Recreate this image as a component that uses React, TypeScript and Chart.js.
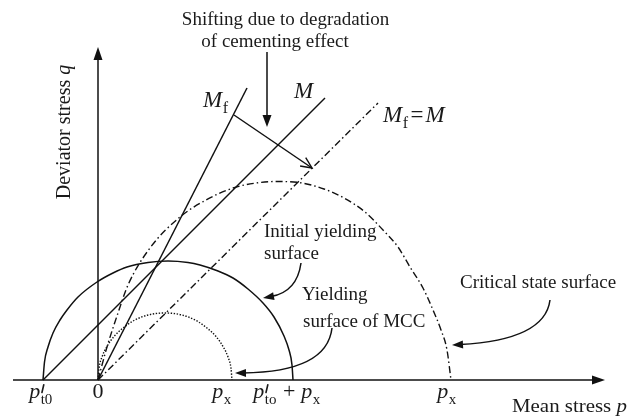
import React, { useEffect, useRef } from "react";
import { Chart, registerables } from "chart.js";

Chart.register(...registerables);

// Stress-space axes (mean stress p, deviator stress q), arbitrary units
const pAxis = [-8.5, 50.7];
const qAxis = [0, 33.3];

// Initial yielding surface (solid)
const initP = [-5.5, -5.35, -5.0, -4.5, -3.8, -3.1, -2.0, -0.1, 1.5, 2.9, 5.0, 7.0, 9.0, 10.2, 12.0, 13.5, 15.0, 16.5, 17.6, 18.6, 19.1, 19.4, 19.5];
const initQ = [0, 1.8, 3.3, 4.7, 6.0, 7.0, 8.3, 9.8, 10.7, 11.3, 11.75, 11.9, 11.75, 11.5, 10.9, 10.2, 9.1, 7.7, 6.3, 4.4, 3.0, 1.5, 0];

// Yielding surface of MCC (dotted)
const mccP = [0, 0.1, 0.4, 0.9, 1.6, 2.5, 3.6, 5.0, 6.7, 8.4, 9.8, 10.9, 11.8, 12.5, 13.0, 13.3, 13.4];
const mccQ = [0, 1.15, 2.3, 3.35, 4.35, 5.2, 5.95, 6.5, 6.7, 6.5, 5.95, 5.2, 4.35, 3.35, 2.3, 1.15, 0];

// Critical state surface (dash-dot)
const critP = [0, 0.9, 2.0, 3.0, 5.2, 8.2, 10.8, 13.5, 15.8, 17.9, 20.4, 22.6, 24.6, 26.7, 28.5, 30.0, 31.2, 32.5, 33.5, 34.3, 34.9, 35.3];
const critQ = [0, 3.3, 6.7, 9.5, 13.2, 16.3, 18.0, 19.2, 19.7, 19.85, 19.7, 19.1, 18.2, 16.8, 15.0, 13.3, 11.3, 9.2, 7.0, 5.0, 3.0, 0];

// Critical state lines
const lineMP = [-5.5, 22.7];
const lineMQ = [0, 28.2];
const lineMfP = [0, 14.9];
const lineMfQ = [0, 29.2];
const lineMfMP = [0, 28.0];
const lineMfMQ = [0, 27.7];

// Shift of the CSL and the pointer from the note above it
const shiftP = [13.6, 21.4];
const shiftQ = [26.5, 21.2];
const noteArrowP = [16.9, 16.9];
const noteArrowQ = [32.8, 25.3];

// Tick positions along p
const tickP = [-5.5, 0, 13.4, 19.5, 35.3];

// Curved leader arrows: start, control, tip (p, q)
const leaderInit = [20.3, 11.7, 19.9, 8.8, 16.5, 8.2];
const leaderMcc = [23.4, 5.2, 22.9, 0.8, 13.7, 0.7];
const leaderCrit = [45.2, 8.0, 44.7, 4.0, 35.4, 3.5];

const SERIF = '"Liberation Serif", "Times New Roman", serif';
const INK = "#111";

type Run = { t: string; it?: boolean; sub?: string; prime?: boolean; pad?: number };

function pts(ps: number[], qs: number[]) {
  return ps.map((p, i) => ({ x: p, y: qs[i] }));
}

function drawRuns(ctx: CanvasRenderingContext2D, runs: Run[], x: number, y: number, size: number, align: "left" | "center") {
  const sub = Math.round(size * 0.68);
  const widths = runs.map((r) => {
    ctx.font = `${r.it ? "italic " : ""}${size}px ${SERIF}`;
    let w = ctx.measureText(r.t).width + 2 * (r.pad || 0);
    if (r.sub) {
      ctx.font = `${sub}px ${SERIF}`;
      w += ctx.measureText(r.sub).width + 1;
    }
    return w;
  });
  const total = widths.reduce((a, b) => a + b, 0);
  let cx = align === "center" ? x - total / 2 : x;
  ctx.textAlign = "left";
  ctx.textBaseline = "alphabetic";
  runs.forEach((r, i) => {
    const pad = r.pad || 0;
    ctx.font = `${r.it ? "italic " : ""}${size}px ${SERIF}`;
    ctx.fillText(r.t, cx + pad, y);
    const w0 = ctx.measureText(r.t).width + pad;
    if (r.sub) {
      ctx.font = `${sub}px ${SERIF}`;
      ctx.fillText(r.sub, cx + w0 + 0.5, y + size * 0.25);
    }
    if (r.prime) {
      // prime mark above the subscript
      const px = cx + w0 + 1;
      ctx.save();
      ctx.lineWidth = 1.6;
      ctx.strokeStyle = ctx.fillStyle as string;
      ctx.lineCap = "round";
      ctx.beginPath();
      ctx.moveTo(px + 2.6, y - size * 0.6);
      ctx.lineTo(px + 0.8, y - size * 0.25);
      ctx.stroke();
      ctx.restore();
    }
    cx += widths[i];
  });
}

function filledHead(ctx: CanvasRenderingContext2D, x: number, y: number, ang: number, len: number, hw: number) {
  const bx = x - Math.cos(ang) * len;
  const by = y - Math.sin(ang) * len;
  const nx = -Math.sin(ang) * hw;
  const ny = Math.cos(ang) * hw;
  ctx.beginPath();
  ctx.moveTo(x, y);
  ctx.lineTo(bx + nx, by + ny);
  ctx.lineTo(bx - nx, by - ny);
  ctx.closePath();
  ctx.fill();
}

function openHead(ctx: CanvasRenderingContext2D, x: number, y: number, ang: number, len: number, hw: number) {
  const bx = x - Math.cos(ang) * len;
  const by = y - Math.sin(ang) * len;
  const nx = -Math.sin(ang) * hw;
  const ny = Math.cos(ang) * hw;
  ctx.beginPath();
  ctx.moveTo(bx + nx, by + ny);
  ctx.lineTo(x, y);
  ctx.lineTo(bx - nx, by - ny);
  ctx.stroke();
}

const diagramPlugin = {
  id: "stressDiagram",
  afterDatasetsDraw(chart: any) {
    const ctx: CanvasRenderingContext2D = chart.ctx;
    const xs = chart.scales.x;
    const ys = chart.scales.y;
    const X = (p: number) => xs.getPixelForValue(p);
    const Y = (q: number) => ys.getPixelForValue(q);
    ctx.save();
    ctx.fillStyle = INK;
    ctx.strokeStyle = INK;
    ctx.lineWidth = 1.5;

    // axis arrowheads
    filledHead(ctx, X(pAxis[1]), Y(0), 0, 13, 4.5);
    filledHead(ctx, X(0), Y(qAxis[1]), -Math.PI / 2, 13, 4.5);

    // note pointer (filled) and CSL shift (open)
    filledHead(ctx, X(noteArrowP[1]), Y(noteArrowQ[1]), Math.PI / 2, 12, 4.5);
    const sAng = Math.atan2(Y(shiftQ[1]) - Y(shiftQ[0]), X(shiftP[1]) - X(shiftP[0]));
    ctx.lineWidth = 1.4;
    openHead(ctx, X(shiftP[1]), Y(shiftQ[1]), sAng, 11, 5);

    // curved leaders
    ctx.lineWidth = 1.5;
    [leaderInit, leaderMcc, leaderCrit].forEach((l) => {
      const sx = X(l[0]), sy = Y(l[1]), cx = X(l[2]), cy = Y(l[3]), ex = X(l[4]), ey = Y(l[5]);
      const ang = Math.atan2(ey - cy, ex - cx);
      const hx = ex - Math.cos(ang) * 8;
      const hy = ey - Math.sin(ang) * 8;
      ctx.beginPath();
      ctx.moveTo(sx, sy);
      ctx.quadraticCurveTo(cx, cy, hx, hy);
      ctx.stroke();
      filledHead(ctx, ex, ey, ang, 11, 4);
    });

    // notes
    ctx.fillStyle = "#1a1a1a";
    const fs = 19;
    drawRuns(ctx, [{ t: "Shifting due to degradation" }], X(18.75), Y(35.5), fs, "center");
    drawRuns(ctx, [{ t: "of cementing effect" }], X(17.7), Y(33.3), fs, "center");
    drawRuns(ctx, [{ t: "Initial yielding" }], X(16.6), Y(14.3), fs, "left");
    drawRuns(ctx, [{ t: "surface" }], X(16.6), Y(12.1), fs, "left");
    drawRuns(ctx, [{ t: "Yielding" }], X(20.4), Y(8.0), fs, "left");
    drawRuns(ctx, [{ t: "surface of MCC" }], X(20.5), Y(5.3), fs, "left");
    drawRuns(ctx, [{ t: "Critical state surface" }], X(36.2), Y(9.2), fs, "left");
    ctx.save();
    ctx.translate(X(41.4), Y(-3.2));
    ctx.scale(1.1, 1);
    drawRuns(ctx, [{ t: "Mean stress " }, { t: "p", it: true }], 0, 0, 19, "left");
    ctx.restore();

    // line labels
    drawRuns(ctx, [{ t: "M", it: true, sub: "f" }], X(10.5), Y(27.3), 23, "left");
    drawRuns(ctx, [{ t: "M", it: true }], X(19.6), Y(28.2), 23, "left");
    drawRuns(ctx, [{ t: "M", it: true, sub: "f" }, { t: "=", pad: 2 }, { t: "M", it: true }], X(28.5), Y(25.8), 23, "left");

    // tick labels along p
    const tickRuns: Run[][] = [
      [{ t: "p", it: true, prime: true, sub: "t0" }],
      [{ t: "0" }],
      [{ t: "p", it: true, sub: "x" }],
      [{ t: "p", it: true, prime: true, sub: "to" }, { t: "+", pad: 6 }, { t: "p", it: true, sub: "x" }],
      [{ t: "p", it: true, sub: "x" }],
    ];
    const nudge = [-2, 0, -10, -6, -4];
    tickP.forEach((p, i) => drawRuns(ctx, tickRuns[i], X(p) + nudge[i], Y(-1.8), 22, "center"));

    // q axis title
    ctx.save();
    ctx.translate(X(-2.8), Y(24.8));
    ctx.rotate(-Math.PI / 2);
    drawRuns(ctx, [{ t: "Deviator stress " }, { t: "q", it: true }], 0, 0, 20, "center");
    ctx.restore();

    ctx.restore();
  },
};

export default function App() {
  const ref = useRef<HTMLCanvasElement>(null);

  useEffect(() => {
    if (!ref.current) return;
    const solid = { borderColor: INK, borderWidth: 1.5, pointRadius: 0, showLine: true, fill: false, clip: false as any };
    const dashDot = [7, 3, 1.5, 3];
    const chart = new Chart(ref.current, {
      type: "scatter",
      data: {
        datasets: [
          { ...solid, data: [{ x: pAxis[0], y: 0 }, { x: pAxis[1] - 1, y: 0 }] },
          { ...solid, data: [{ x: 0, y: qAxis[0] }, { x: 0, y: qAxis[1] - 0.8 }] },
          { ...solid, data: pts(initP, initQ), cubicInterpolationMode: "monotone" },
          { ...solid, borderWidth: 1.4, borderDash: [1.4, 1.6], data: pts(mccP, mccQ), cubicInterpolationMode: "monotone" },
          { ...solid, borderWidth: 1.4, borderDash: dashDot, data: pts(critP, critQ), cubicInterpolationMode: "monotone" },
          { ...solid, data: pts(lineMP, lineMQ) },
          { ...solid, data: pts(lineMfP, lineMfQ) },
          { ...solid, borderWidth: 1.4, borderDash: dashDot, data: pts(lineMfMP, lineMfMQ) },
          { ...solid, data: pts(shiftP, shiftQ) },
          { ...solid, data: [{ x: noteArrowP[0], y: noteArrowQ[0] }, { x: noteArrowP[1], y: noteArrowQ[1] + 0.8 }] },
        ] as any,
      },
      options: {
        animation: false,
        responsive: false,
        devicePixelRatio: 1,
        layout: { padding: { left: 8, right: 36, top: 20, bottom: 6 } },
        plugins: { legend: { display: false }, tooltip: { enabled: false } },
        scales: {
          x: { type: "linear", min: -9, max: 51, display: false },
          y: { type: "linear", min: -3, max: 36, display: false },
        },
        events: [],
      } as any,
      plugins: [diagramPlugin],
    });
    return () => chart.destroy();
  }, []);

  return (
    <div style={{ position: "fixed", left: 0, top: 0, width: 644, height: 416, background: "#fff" }}>
      <canvas ref={ref} width={644} height={416} style={{ display: "block" }} />
    </div>
  );
}
